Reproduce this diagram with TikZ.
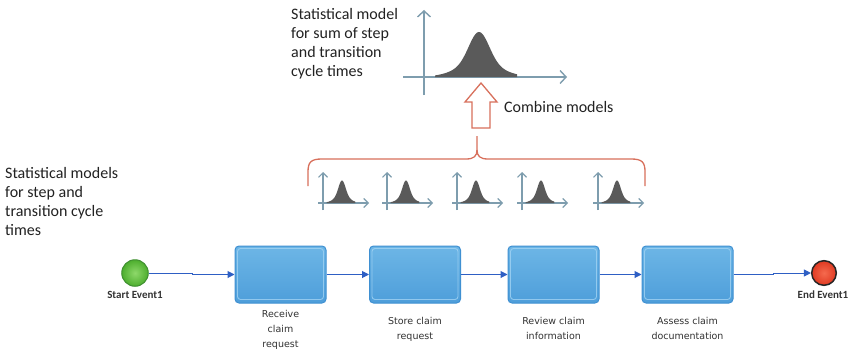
\documentclass[tikz,border=0pt]{standalone}
\usepackage{fontspec}
\setmainfont{Carlito}
\newfontfamily\dejavu{DejaVu Sans}
\usetikzlibrary{arrows.meta,calc}
\definecolor{axisc}{HTML}{7E9DAE}
\definecolor{bellc}{HTML}{5A5A5A}
\definecolor{redc}{HTML}{D8705C}
\definecolor{flowc}{HTML}{2E5FC4}
\definecolor{boxedge}{HTML}{3F90D2}
\definecolor{boxtop}{HTML}{6DB6E6}
\definecolor{boxbot}{HTML}{4E9EDA}
\definecolor{boxhi}{HTML}{A2D3F3}
\definecolor{txtc}{HTML}{222222}
\definecolor{labc}{HTML}{333333}
\definecolor{startedge}{HTML}{3F8F30}
\definecolor{startin}{HTML}{8ED86A}
\definecolor{startout}{HTML}{4DAE2E}
\definecolor{endin}{HTML}{F56A4E}
\definecolor{endout}{HTML}{E03A22}
\tikzset{
  bellshape/.pic={
    \fill[bellc] plot[domain=-44:38,samples=70,smooth]
      (\x,{-45*(0.7*exp(-(\x/14)^2)+0.3*exp(-(\x/30)^2))})
      -- (38,0) -- (-44,0) -- cycle;
  },
  bigaxis/.style={draw=axisc, line width=1.4pt, -{Straight Barb[length=6pt,width=13pt]}},
  smallaxis/.style={draw=axisc, line width=1.1pt, -{Straight Barb[length=4.5pt,width=9pt]}},
  bigtext/.style={font=\fontsize{16}{19}\selectfont, text=txtc, align=left, inner sep=0pt},
  taskbox/.style={rectangle, rounded corners=4pt, draw=boxedge, line width=1pt,
    top color=boxtop, bottom color=boxbot, minimum width=91pt, minimum height=57pt},
  tasklabel/.style={font=\dejavu\fontsize{9.5}{15}\selectfont, text=labc, align=center, inner sep=0pt},
  evlabel/.style={font=\bfseries\fontsize{11}{13}\selectfont, text=labc, inner sep=0pt},
  startev/.style={circle, minimum size=26.5pt, inner sep=0pt, draw=startedge, line width=1pt,
    inner color=startin, outer color=startout},
  endev/.style={circle, minimum size=24.6pt, inner sep=0pt, draw=black!85, line width=1.5pt,
    inner color=endin, outer color=endout},
  flow/.style={draw=flowc, line width=1pt, -{Triangle[length=7pt,width=7pt]}},
  bracketst/.style={draw=redc, line width=1.3pt},
}
\begin{document}
\begin{tikzpicture}[x=1pt,y=-1pt]
\useasboundingbox (0,0) rectangle (850,353);
\fill[white] (0,0) rectangle (850,353);

% texts
\node[bigtext, anchor=north west] (toptext) at (291,8) {Statistical model\\for sum of step\\and transition\\cycle times};
\node[bigtext, anchor=north west] (lefttext) at (5,167.5) {Statistical models\\for step and\\transition cycle\\times};
\node[bigtext, anchor=base west] (combine) at (504,112.5) {Combine models};

% big chart
\draw[bigaxis] (424,95) -- (424,10);
\draw[bigaxis] (403,77) -- (567,77);
\pic at (479,77) {bellshape};

% hollow arrow
\draw[bracketst, line join=miter] (481,83) -- (497,102) -- (490,102) -- (490,128) -- (472,128) -- (472,102) -- (465,102) -- cycle;

% bracket
\draw[bracketst] (477,136) -- (477,150) .. controls (477,156) and (474,159) .. (466,159)
  -- (322,159) .. controls (311,159) and (308,162) .. (308,172) -- (308,186);
\draw[bracketst] (477,150) .. controls (477,156) and (480,159) .. (488,159)
  -- (631,159) .. controls (642,159) and (645,162) .. (645,172) -- (645,186);

% small charts
\foreach \X in {323,387,457,522,598} {
  \draw[smallaxis] (\X,210) -- (\X,172);
  \draw[smallaxis] (\X-5,203) -- (\X+46,203);
  \pic[xscale=0.35,yscale=0.5] at (\X+19,203) {bellshape};
}

% process
\node[startev] (s) at (135,273) {};
\node[endev] (e) at (824,273) {};
\node[evlabel] (sl) at (135,295) {Start Event1};
\node[evlabel] (el) at (823,295) {End Event1};

\node[taskbox] (b1) at (280.5,274.5) {};
\node[taskbox] (b2) at (415,274.5) {};
\node[taskbox] (b3) at (553.5,274.5) {};
\node[taskbox] (b4) at (687.5,274.5) {};
\foreach \b in {b1,b2,b3,b4} {
  \draw[boxhi, line width=0.9pt, rounded corners=3pt, opacity=0.8]
    ($(\b.north west)+(3,3)$) rectangle ($(\b.south east)+(-3,-4)$);
}

\node[tasklabel, anchor=north] (l1) at ($(b1.south)+(0,6.5)$) {Receive\\claim\\request};
\node[tasklabel, anchor=north] (l2) at ($(b2.south)+(0,13.5)$) {Store claim\\request};
\node[tasklabel, anchor=north] (l3) at ($(b3.south)+(0,13.5)$) {Review claim\\information};
\node[tasklabel, anchor=north] (l4) at ($(b4.south)+(0,13.5)$) {Assess claim\\documentation};

\draw[flow] (s.east) -- ++(44,0) |- (b1.west);
\draw[flow] (b1.east) -- (b2.west);
\draw[flow] (b2.east) -- (b3.west);
\draw[flow] (b3.east) -- (b4.west);
\draw[flow] (b4.east) -- ++(40,0) |- (e.west);
\end{tikzpicture}
\end{document}
